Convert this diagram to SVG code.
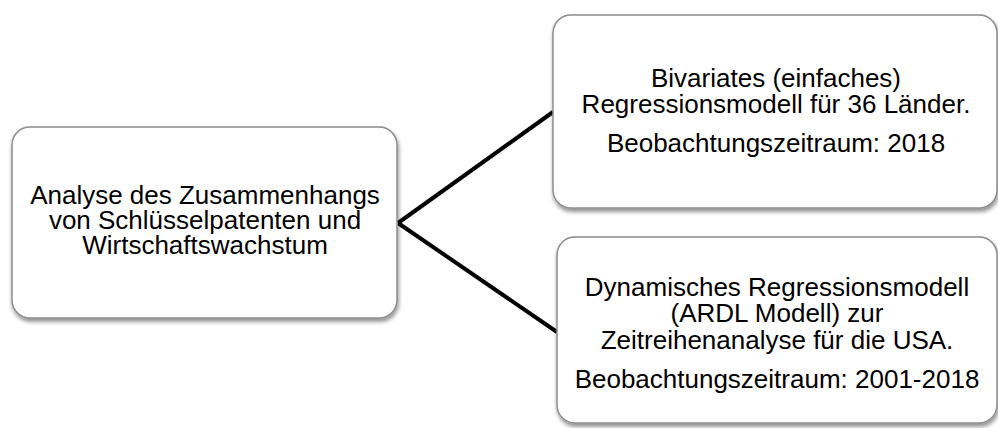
<svg xmlns="http://www.w3.org/2000/svg" width="998" height="428" viewBox="0 0 998 428">
<defs>
<filter id="sh" x="-10%" y="-10%" width="120%" height="125%">
<feGaussianBlur in="SourceAlpha" stdDeviation="2.2"/>
<feOffset dx="1" dy="3" result="b"/>
<feComponentTransfer><feFuncA type="linear" slope="0.45"/></feComponentTransfer>
<feMerge><feMergeNode/><feMergeNode in="SourceGraphic"/></feMerge>
</filter>
</defs>
<style>
.box{fill:#fff;stroke:#8c8c8c;stroke-width:1.5;filter:url(#sh)}
.t{font-family:"Liberation Sans",Arial,sans-serif;font-size:26px;fill:#000;text-anchor:middle}
.c{stroke:#000;stroke-width:4;fill:none}
</style>
<rect width="998" height="428" fill="#fff"/>
<g id="connectors">
<line class="c" x1="398" y1="223" x2="553" y2="112"/>
<line class="c" x1="398" y1="223" x2="557" y2="332"/>
</g>
<g id="node-analyse">
<rect class="box" x="12" y="127" width="385" height="191" rx="18"/>
<text class="t" x="205" y="204">Analyse des Zusammenhangs</text>
<text class="t" x="205" y="229">von Schlüsselpatenten und</text>
<text class="t" x="205" y="254">Wirtschaftswachstum</text>
</g>
<g id="node-bivariat">
<rect class="box" x="553" y="15" width="444" height="193" rx="18"/>
<text class="t" x="776" y="87">Bivariates (einfaches)</text>
<text class="t" x="776" y="113">Regressionsmodell für 36 Länder.</text>
<text class="t" x="776" y="152">Beobachtungszeitraum: 2018</text>
</g>
<g id="node-ardl">
<rect class="box" x="557" y="237" width="440" height="186" rx="18"/>
<text class="t" x="777" y="296">Dynamisches Regressionsmodell</text>
<text class="t" x="777" y="322">(ARDL Modell) zur</text>
<text class="t" x="777" y="349">Zeitreihenanalyse für die USA.</text>
<text class="t" x="777" y="388">Beobachtungszeitraum: 2001-2018</text>
</g>
</svg>
